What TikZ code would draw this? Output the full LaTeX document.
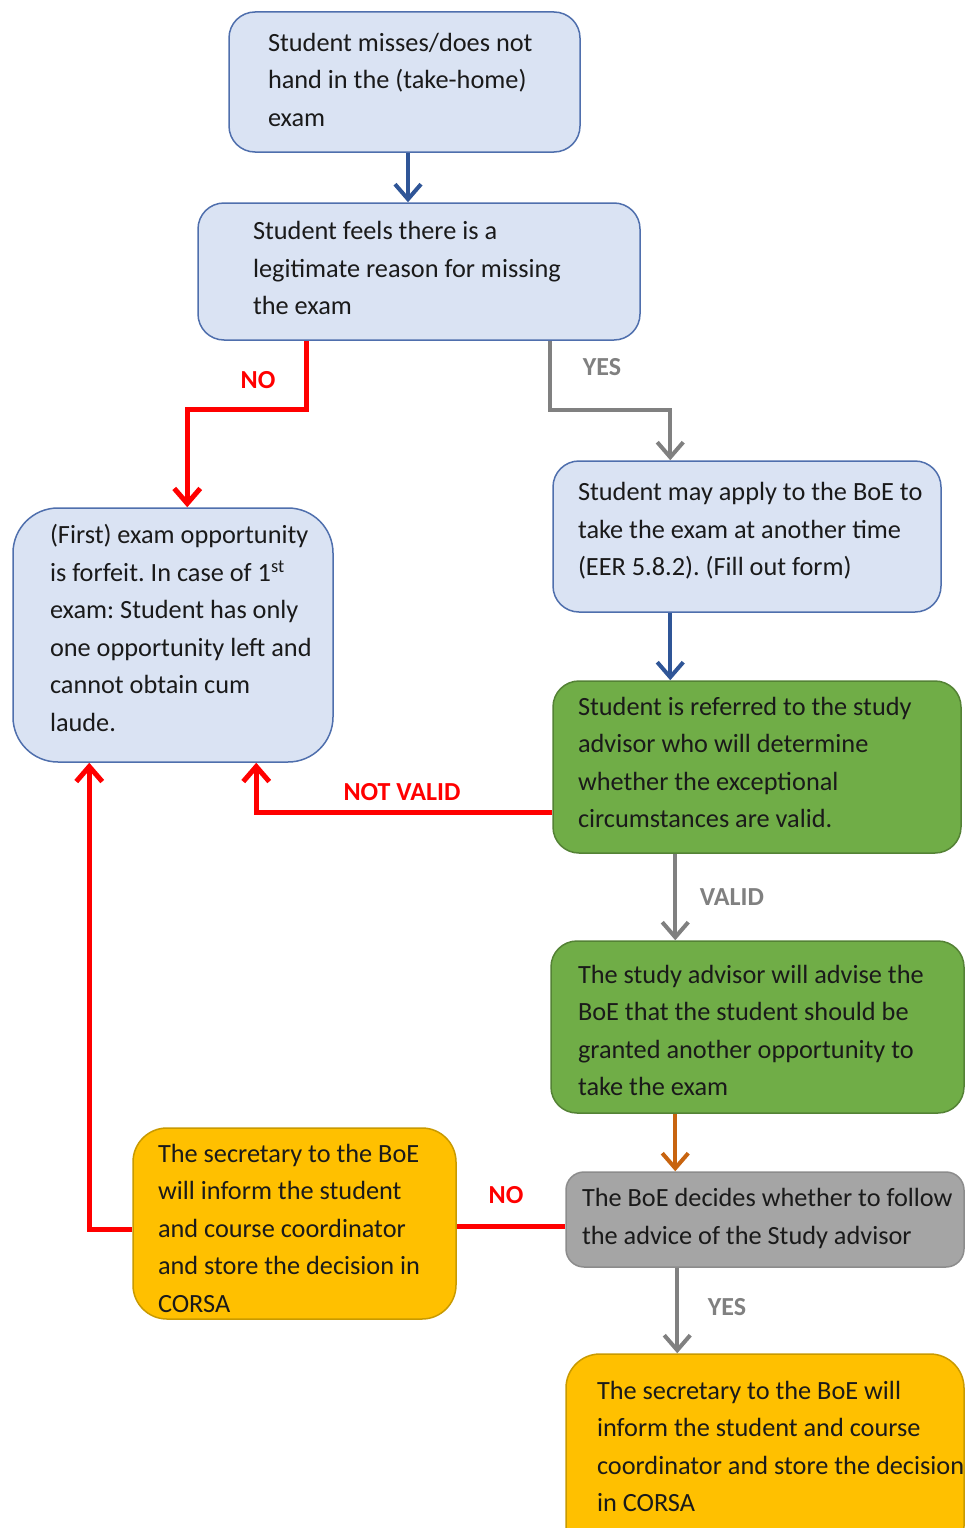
\documentclass[tikz,border=0pt]{standalone}
\usepackage{fontspec}
\setmainfont{Carlito}
\usetikzlibrary{arrows.meta,calc}
\definecolor{bfill}{HTML}{DAE3F3}
\definecolor{bline}{HTML}{4F6FAD}
\definecolor{barrow}{HTML}{2F5597}
\definecolor{gfill}{HTML}{70AD47}
\definecolor{gline}{HTML}{548235}
\definecolor{grfill}{HTML}{A5A5A5}
\definecolor{grline}{HTML}{8C8C8C}
\definecolor{yfill}{HTML}{FFC000}
\definecolor{yline}{HTML}{C99A00}
\definecolor{redc}{HTML}{FF0000}
\definecolor{grayc}{HTML}{808080}
\definecolor{orangec}{HTML}{C8640F}
\definecolor{txt}{HTML}{1A1A1A}
\frenchspacing
% #1 = vertical shift of the text block (positive = up), #2 = lines
\newcommand{\tlines}[2]{\spaceskip=0pt\xspaceskip=0pt\relax\raisebox{#1pt}[\height][\depth]{\begin{tabular}{@{}l@{}}#2\end{tabular}}}
\newcommand{\boxfont}{\fontsize{26.3}{37.5}\selectfont}
\begin{document}
\begin{tikzpicture}[x=1pt,y=-1pt,
  box/.style={rounded corners=26pt, line width=1.5pt, inner ysep=0pt, align=left,
    font=\boxfont, text=txt},
  bluebox/.style={box, draw=bline, fill=bfill},
  greenbox/.style={box, draw=gline, fill=gfill},
  graybox/.style={box, draw=grline, fill=grfill},
  yellowbox/.style={box, draw=yline, fill=yfill},
  conn/.style={line width=4pt, -{Straight Barb[length=15pt,width=26pt]}},
  lbl/.style={font=\fontsize{26}{30}\selectfont\bfseries, inner sep=0pt}
]
\clip (0,0) rectangle (966,1528);
\fill[white] (0,0) rectangle (966,1528);

\node[bluebox, minimum height=140pt, text width=273pt, inner xsep=39pt] (a) at (404.5,82)
  {\tlines{1}{Student misses/does not\\ hand in the (take-home)\\ exam}};
\node[bluebox, minimum height=137pt, text width=332pt, inner xsep=55pt] (b) at (419,271.5)
  {\tlines{2}{Student feels there is a\\ legitimate reason for missing\\ the exam}};
\node[bluebox, rounded corners=45pt, minimum height=254pt, text width=246pt, inner xsep=37pt] (c) at (173,635)
  {\tlines{5}{(First) exam opportunity\\ is forfeit. In case of 1\textsuperscript{st}\\ exam: Student has only\\ one opportunity left and\\ cannot obtain cum\\ laude.}};
\node[bluebox, minimum height=151pt, text width=338pt, inner xsep=25pt] (d) at (747,536.5)
  {\tlines{6}{Student may apply to the BoE to\\ take the exam at another time\\ (EER 5.8.2). (Fill out form)}};
\node[greenbox, minimum height=172pt, text width=358pt, inner xsep=25pt] (e) at (757,767)
  {\tlines{3}{Student is referred to the study\\ advisor who will determine\\ whether the exceptional\\ circumstances are valid.}};
\node[greenbox, minimum height=172pt, text width=359pt, inner xsep=27pt] (f) at (757.5,1027)
  {\tlines{-5}{The study advisor will advise the\\ BoE that the student should be\\ granted another opportunity to\\ take the exam}};
\node[graybox, rounded corners=18pt, minimum height=95pt, text width=366pt, inner xsep=16pt] (g) at (765,1219.5)
  {\tlines{1.5}{The BoE decides whether to follow\\ the advice of the Study advisor}};
\node[yellowbox, rounded corners=34pt, minimum height=191pt, text width=273pt, inner xsep=25pt] (h) at (294.5,1223.5)
  {\tlines{-6}{The secretary to the BoE\\ will inform the student\\ and course coordinator\\ and store the decision in\\ CORSA}};
\node[yellowbox, rounded corners=34pt, minimum height=206pt, text width=336pt, inner xsep=31pt] (i) at (765,1457)
  {\tlines{9}{The secretary to the BoE will\\ inform the student and course\\ coordinator and store the decision\\ in CORSA}};

% connectors
\draw[conn, barrow] ([xshift=3.5pt]a.south) -- ([xshift=3.5pt]a.south |- b.north);
\draw[conn, redc, line width=5pt] ([xshift=109pt]b.south west) -- ++(0,69) -| ([xshift=175pt]c.north west);
\draw[conn, grayc] ([xshift=353pt]b.south west) -- ++(0,69) -| ([xshift=118pt]d.north west);
\draw[conn, barrow] ([xshift=118pt]d.south west) -- ([xshift=118pt]d.south west |- e.north);
\draw[conn, redc, line width=5pt] ([yshift=-45pt]e.west) -| ([xshift=244pt]c.south west);
\draw[conn, grayc] ([xshift=123pt]e.south west) -- ([xshift=123pt]e.south west |- f.north);
\draw[conn, orangec] ([xshift=125pt]f.south west) -- ([xshift=125pt]f.south west |- g.north);
\draw[redc, line width=5pt] ([yshift=-7pt]g.west) -- ([yshift=-7pt]g.west -| h.east);
\draw[conn, redc, line width=5pt] ([yshift=-6pt]h.west) -| ([xshift=77pt]c.south west);
\draw[conn, grayc] ([xshift=112pt]g.south west) -- ([xshift=112pt]g.south west |- i.north);

% labels
\node[lbl, text=redc] (l1) at (258,380) {NO};
\node[lbl, text=grayc] (l2) at (602,367) {YES};
\node[lbl, text=redc] (l3) at (402,792) {NOT VALID};
\node[lbl, text=grayc] (l4) at (732,897) {VALID};
\node[lbl, text=redc] (l5) at (506,1195) {NO};
\node[lbl, text=grayc] (l6) at (727,1307) {YES};
\end{tikzpicture}
\end{document}
